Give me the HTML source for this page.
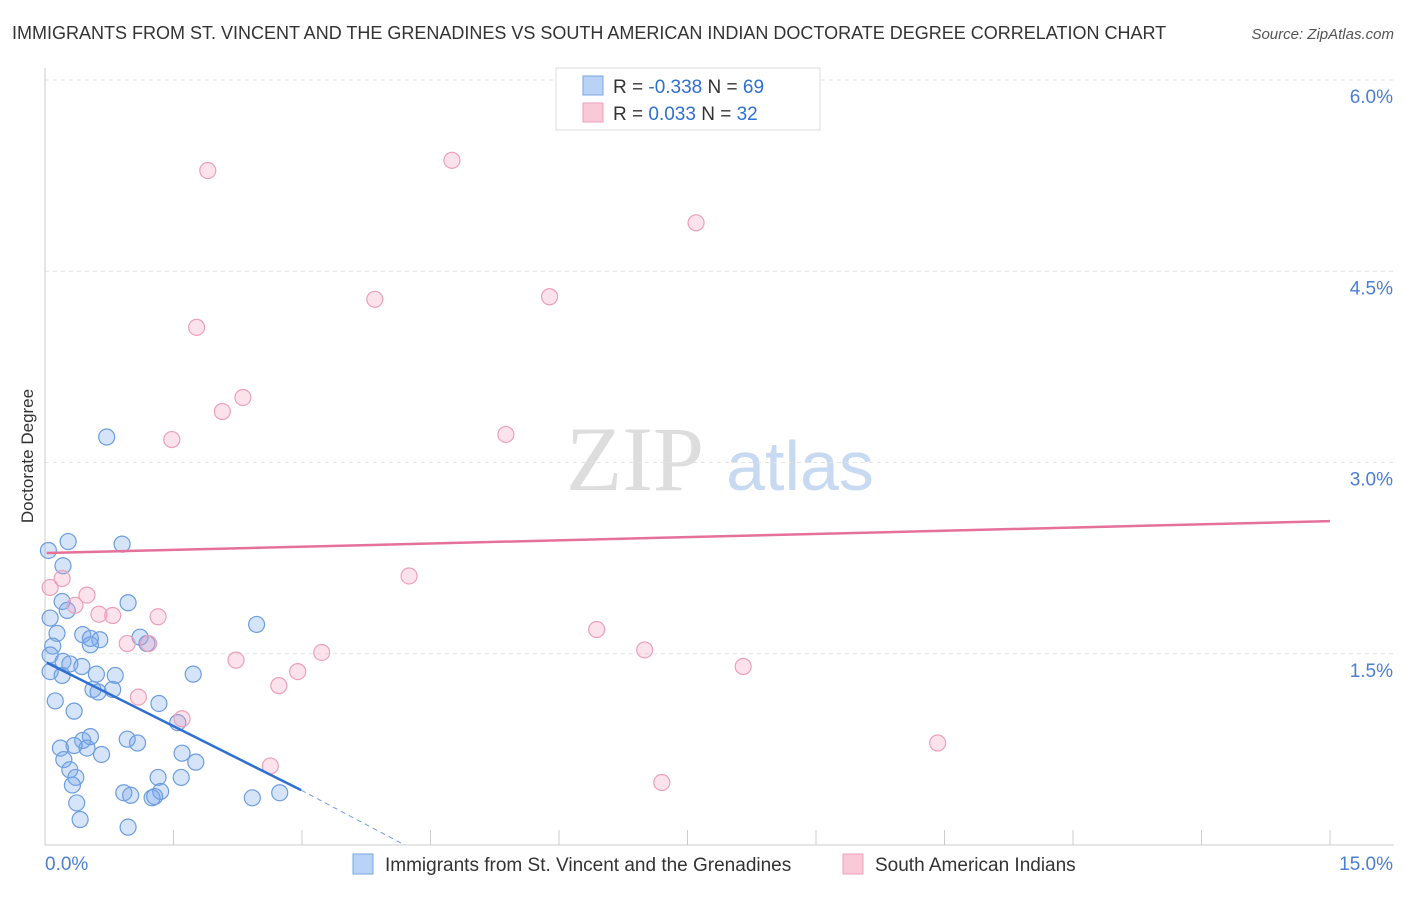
<!DOCTYPE html>
<html><head><meta charset="utf-8"><style>
body{margin:0;background:#fff;font-family:"Liberation Sans",sans-serif;}
</style></head><body>
<svg id="chart" width="1406" height="892" xmlns="http://www.w3.org/2000/svg" font-family="Liberation Sans, sans-serif">
<text x="12" y="39" font-size="18" fill="#333">IMMIGRANTS FROM ST. VINCENT AND THE GRENADINES VS SOUTH AMERICAN INDIAN DOCTORATE DEGREE CORRELATION CHART</text>
<text x="1394" y="39" font-size="15" fill="#555" font-style="italic" text-anchor="end">Source: ZipAtlas.com</text>
<text transform="translate(33,456) rotate(-90)" font-size="17" fill="#333" text-anchor="middle">Doctorate Degree</text>
<g><text x="635" y="490" font-size="92" fill="#ddd" font-family="Liberation Serif, serif" text-anchor="middle">ZIP</text><text x="800" y="490" font-size="70" fill="#c8daf2" text-anchor="middle">atlas</text></g>
<g id="grid"></g><g id="axes"></g><g id="marks"></g>
<g>
<rect x="556" y="68" width="264" height="62" fill="#fff" stroke="#ddd"/>
<rect x="583" y="76" width="20" height="19" fill="#b8d3f5" stroke="#7aa6e3"/>
<text x="613" y="93" font-size="19" fill="#333">R = <tspan fill="#2f6fd0">-0.338</tspan>   N = <tspan fill="#2f6fd0">69</tspan></text>
<rect x="583" y="103" width="20" height="19" fill="#f9c9d7" stroke="#eda0b8"/>
<text x="613" y="120" font-size="19" fill="#333">R =  <tspan fill="#2f6fd0">0.033</tspan>   N = <tspan fill="#2f6fd0">32</tspan></text>
</g>
<g>
<rect x="353" y="854" width="20" height="20" fill="#b8d3f5" stroke="#7aa6e3"/>
<text x="385" y="871" font-size="19" fill="#333">Immigrants from St. Vincent and the Grenadines</text>
<rect x="843" y="854" width="20" height="20" fill="#f9c9d7" stroke="#eda0b8"/>
<text x="875" y="871" font-size="19" fill="#333">South American Indians</text>
</g>
</svg>
<script>
const yTicks=[1.5,3.0,4.5,6.0];
const yTickLabels=["1.5%","3.0%","4.5%","6.0%"];
const xTicks=[0,1.5,3,4.5,6,7.5,9,10.5,12,13.5,15];
const blueX=[0.72,0.27,0.90,0.04,0.21,0.20,0.97,0.26,0.06,2.47,0.14,0.44,0.53,0.64,1.11,1.19,0.53,0.09,0.06,0.21,0.29,0.43,0.06,0.20,0.60,0.82,1.73,0.56,0.62,0.79,0.12,1.33,0.34,1.55,0.53,0.44,0.96,1.08,0.18,0.49,0.34,1.60,0.66,0.22,1.76,0.29,0.36,1.32,1.59,0.32,0.92,1.00,1.35,1.25,1.28,2.42,2.74,0.37,0.41,0.97];
const blueY=[3.20,2.38,2.36,2.31,2.19,1.91,1.90,1.84,1.78,1.73,1.66,1.65,1.62,1.61,1.63,1.58,1.57,1.56,1.49,1.44,1.42,1.40,1.36,1.33,1.34,1.33,1.34,1.22,1.20,1.22,1.13,1.11,1.05,0.96,0.85,0.82,0.83,0.80,0.76,0.76,0.78,0.72,0.71,0.67,0.65,0.59,0.53,0.53,0.53,0.47,0.41,0.39,0.42,0.37,0.38,0.37,0.41,0.33,0.20,0.14];
const pinkX=[1.90,4.75,7.60,3.85,5.89,1.77,2.31,2.07,1.48,5.38,4.25,0.20,0.06,0.49,0.35,0.63,0.79,1.32,6.44,0.96,1.21,3.23,7.00,2.23,8.15,2.95,2.73,1.09,1.60,10.42,2.63,7.20];
const pinkY=[5.29,5.37,4.88,4.28,4.30,4.06,3.51,3.40,3.18,3.22,2.11,2.09,2.02,1.96,1.88,1.81,1.80,1.79,1.69,1.58,1.58,1.51,1.53,1.45,1.40,1.36,1.25,1.16,0.99,0.80,0.62,0.49];
const blueTrend=[[0.02,1.43],[2.99,0.43]];
const blueDash=[[2.99,0.43],[4.2,0]];
const pinkTrend=[[0.02,2.29],[15,2.54]];
const NS="http://www.w3.org/2000/svg";
const sx=v=>45+v/15*1285, sy=v=>845-v*127.5;
function mk(tag,attrs,parent){const e=document.createElementNS(NS,tag);for(const k in attrs)e.setAttribute(k,attrs[k]);document.getElementById(parent).appendChild(e);return e;}
yTicks.forEach((t,i)=>{
 const g=mk('line',{x1:45,x2:1394,y1:sy(t),y2:sy(t),stroke:'#e3e3e3','stroke-dasharray':'4,4'},'grid');
 
 
 const l=mk('text',{x:1393,y:sy(t)+23,'font-size':19,fill:'#4a7fd4','text-anchor':'end'},'axes');
 l.textContent=yTickLabels[i];
 
 
});
const ax=mk('line',{x1:45,x2:1394,y1:845,y2:845,stroke:'#ccc'},'axes');


const ay=mk('line',{x1:45,x2:45,y1:68,y2:845,stroke:'#ccc'},'axes');


xTicks.forEach(t=>{const e=mk('line',{x1:sx(t),x2:sx(t),y1:830,y2:845,stroke:'#ccc'},'axes');
 
 });
const x0=mk('text',{x:45,y:870,'font-size':19,fill:'#4a7fd4'},'axes');x0.textContent='0.0%';


const x1=mk('text',{x:1393,y:870,'font-size':19,fill:'#4a7fd4','text-anchor':'end'},'axes');x1.textContent='15.0%';


blueX.forEach((v,i)=>{const c=mk('circle',{cx:sx(v),cy:sy(blueY[i]),r:8,fill:'rgba(120,165,235,0.3)',stroke:'#6c9de0','stroke-width':1.2},'marks');
 
 });
pinkX.forEach((v,i)=>{const c=mk('circle',{cx:sx(v),cy:sy(pinkY[i]),r:8,fill:'rgba(245,160,190,0.3)',stroke:'#eda0b8','stroke-width':1.2},'marks');
 
 });
const bt=mk('line',{x1:sx(blueTrend[0][0]),y1:sy(blueTrend[0][1]),x2:sx(blueTrend[1][0]),y2:sy(blueTrend[1][1]),stroke:'#2f6fd0','stroke-width':2.5},'marks');


const bd=mk('line',{x1:sx(blueDash[0][0]),y1:sy(blueDash[0][1]),x2:sx(blueDash[1][0]),y2:sy(blueDash[1][1]),stroke:'#6c9de0','stroke-width':1,'stroke-dasharray':'5,4'},'marks');


const pt=mk('line',{x1:sx(pinkTrend[0][0]),y1:sy(pinkTrend[0][1]),x2:sx(pinkTrend[1][0]),y2:sy(pinkTrend[1][1]),stroke:'#e5709a','stroke-width':2.5},'marks');


</script>
</body></html>
